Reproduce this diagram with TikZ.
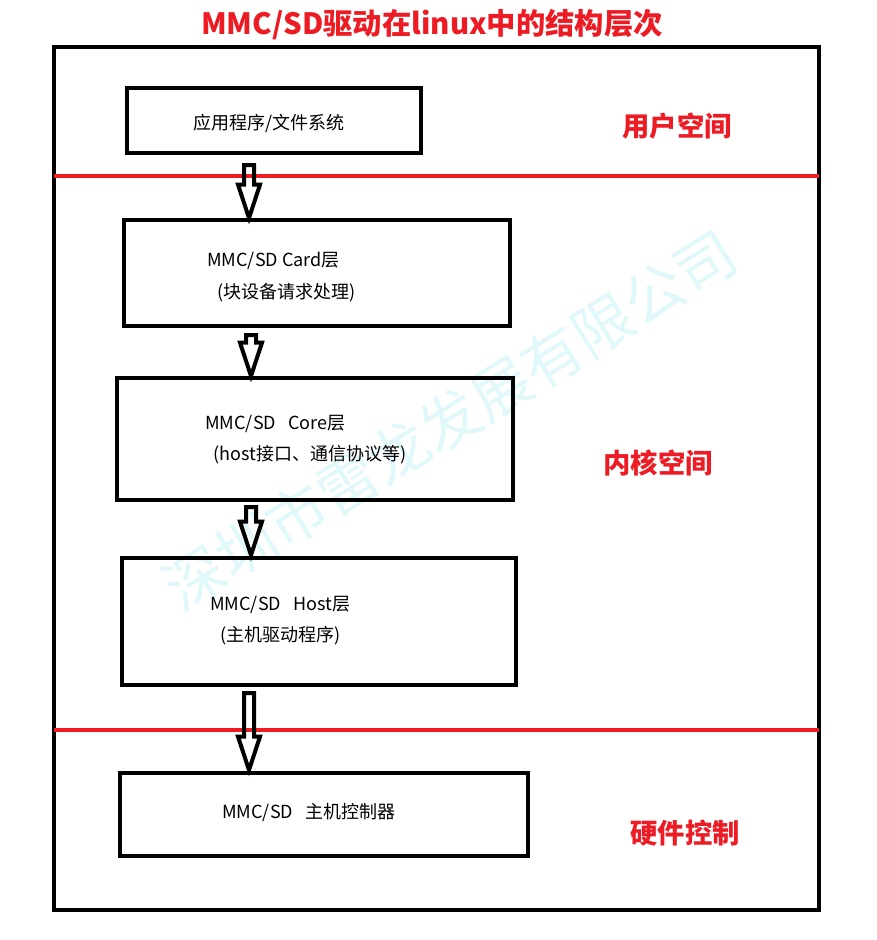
\documentclass[tikz,border=0pt]{standalone}
\usepackage{fontspec}
\setmainfont{Noto Sans CJK SC}
\usetikzlibrary{calc}
\definecolor{lred}{RGB}{237,28,36}
\definecolor{wmark}{RGB}{225,248,250}
\newcommand{\hollowarrow}[3]{% x, top, bottom
  \draw[line width=3pt,line join=miter]
    let \p1=(#2), \p2=(#3) in
    (#1-5,\y1) -- (#1+5,\y1) -- (#1+5,\y2+25) -- (#1+11,\y2+25) -- (#1,\y2)
    -- (#1-11,\y2+25) -- (#1-5,\y2+25) -- cycle;}
\begin{document}
\begin{tikzpicture}[x=0.75pt,y=-0.75pt]
  \tikzstyle{txt}=[font=\fontsize{13.5}{15}\selectfont,anchor=west,inner sep=0pt]
  \tikzstyle{zone}=[font=\bfseries\fontsize{20.5}{22}\selectfont,text=lred]
  \useasboundingbox (0,0) rectangle (877,940);
  % watermark
  \node[text=wmark,rotate=31.8,font=\fontsize{45}{50}\selectfont] (wm) at (450,420) {深圳市雷龙发展有限公司};
  \node[font=\bfseries\fontsize{22}{24}\selectfont,text=lred] (title) at (432,25) {MMC/SD驱动在linux中的结构层次};
  \draw[line width=3pt] (54,47) rectangle (819,910);
  \coordinate (l1) at (54,176); \coordinate (r1) at (819,176);
  \coordinate (l2) at (54,730); \coordinate (r2) at (819,730);
  \draw[lred,line width=3pt] (l1)--(r1);
  \draw[lred,line width=3pt] (l2)--(r2);
  % layers
  \draw[line width=3pt] (127,88) rectangle (421,153);
  \draw[line width=3pt] (124,220) rectangle (510,326);
  \draw[line width=3pt] (117,378) rectangle (513,500);
  \draw[line width=3pt] (122,558) rectangle (516,685);
  \draw[line width=3pt] (120,773) rectangle (528,856);
  \coordinate (a) at (0,165); \coordinate (b) at (0,218);
  \coordinate (c) at (0,335); \coordinate (d) at (0,376);
  \coordinate (e) at (0,507); \coordinate (f) at (0,555);
  \coordinate (g) at (0,693); \coordinate (h) at (0,770);
  \hollowarrow{249}{a}{b}
  \hollowarrow{251}{c}{d}
  \hollowarrow{251}{e}{f}
  \hollowarrow{249}{g}{h}
  % texts
  \node[txt,anchor=center] (t1) at (269,123) {应用程序/文件系统};
  \node[txt] (t2) at (207,261) {MMC/SD Card层};
  \node[txt] (t3) at (217,293) {(块设备请求处理)};
  \node[txt] (t4) at (205,424) {MMC/SD\ \ \ Core层};
  \node[txt] (t5) at (213,455) {(host接口、通信协议等)};
  \node[txt] (t6) at (210,605) {MMC/SD\ \ \ Host层};
  \node[txt] (t7) at (220,636) {(主机驱动程序)};
  \node[txt] (t8) at (222,813) {MMC/SD\ \ \ 主机控制器};
  \node[zone] (z1) at (677,126) {用户空间};
  \node[zone] (z2) at (658,463) {内核空间};
  \node[zone] (z3) at (685,833) {硬件控制};
\end{tikzpicture}
\end{document}
